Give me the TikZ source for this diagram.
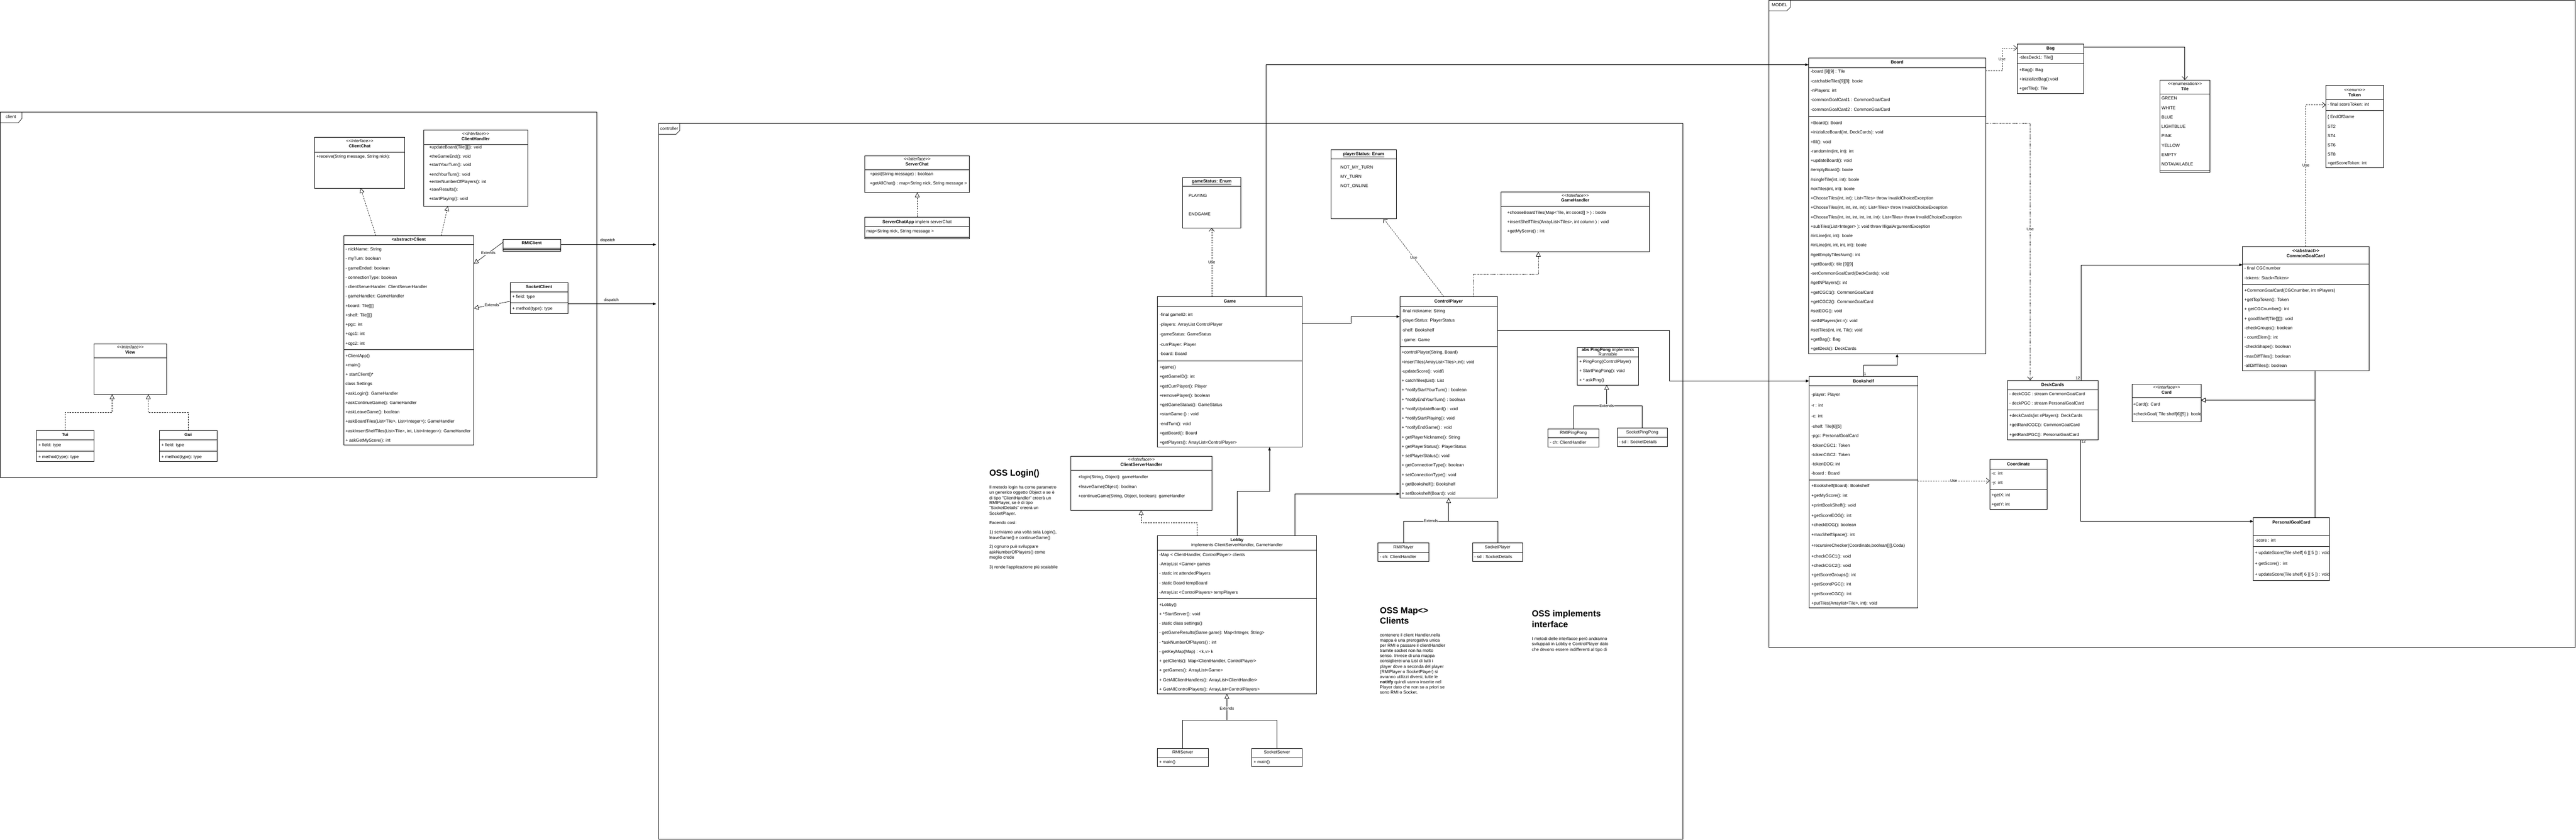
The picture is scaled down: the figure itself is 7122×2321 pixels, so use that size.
\documentclass[tikz,border=0pt]{standalone}
\usepackage{fontspec}
\setmainfont{Liberation Sans}[Ligatures=TeXOff]
\usetikzlibrary{arrows.meta}
\tikzset{
 box/.style={draw, line width=1pt, fill=white, inner sep=0pt, outer sep=0pt, anchor=north west},
 pkg/.style={draw, line width=1pt, inner sep=0pt, outer sep=0pt, anchor=north west},
 row/.style={anchor=west, inner sep=0pt, font=\fontsize{12}{14}\selectfont, text height=9pt, text depth=2.5pt},
 ctr/.style={anchor=center, inner sep=0pt, font=\fontsize{12}{14}\selectfont, text height=9pt, text depth=2.5pt},
 ttl/.style={anchor=center, inner sep=0pt, font=\fontsize{12}{14}\selectfont\bfseries, text height=9pt, text depth=2.5pt},
 ster/.style={anchor=center, inner sep=0pt, font=\fontsize{12}{14}\selectfont\itshape, text height=9pt, text depth=2.5pt},
 lbl/.style={fill=white, inner sep=1pt, font=\fontsize{11}{13}\selectfont},
 lblp/.style={inner sep=1pt, font=\fontsize{11}{13}\selectfont},
 head/.style={anchor=west, inner sep=0pt, font=\fontsize{24}{28}\selectfont\bfseries, text height=18pt, text depth=5pt},
 conn/.style={line width=1pt},
 assoc/.style={conn, -{Triangle[length=9pt,width=7pt]}},
 real/.style={conn, dash pattern=on 4pt off 3pt, -{Triangle[open,length=13pt,width=13pt]}},
 dotreal/.style={conn, dash pattern=on 2pt off 2pt, -{Triangle[open,length=13pt,width=13pt]}},
 gen/.style={conn, -{Triangle[open,length=13pt,width=13pt]}},
 dep/.style={conn, dash pattern=on 4pt off 3pt, -{Straight Barb[length=9pt,width=15pt]}},
 dotdep/.style={conn, dash pattern=on 2pt off 2pt, -{Straight Barb[length=9pt,width=15pt]}},
 navi/.style={conn, -{Straight Barb[length=9pt,width=15pt]}},
}
\newcommand\ubox[5]{\node[box, minimum width={#4-#2}, minimum height={#5-#3}] (#1) at (#2,#3) {};}
\newcommand\usep[3]{\draw[line width=1pt] (#1,#3) -- (#2,#3);}
\newcommand\urows[5]{\foreach \rt [count=\ri] in {#5} {\node[row] (#1-\ri) at ({#2},{#3+(\ri-1)*#4}) {\rt};}}
\newcommand\urowsat[3]{\foreach \ry/\rt [count=\ri] in {#3} {\node[row] (#1-\ri) at ({#2},{\ry}) {\rt};}}
\begin{document}
\begin{tikzpicture}[x=1pt,y=-1pt]
\fill[white] (0,0) rectangle (7122,2321);
\useasboundingbox (0,0) rectangle (7122,2321);

% ===== packages =====
\node[pkg, minimum width=1649, minimum height=1010] (clientpkg) at (1,310) {};
\draw[line width=1pt] (1,310) -- (61,310) -- (61,327) -- (51,339) -- (1,339);
\node[ctr] (clientlbl) at (30,324) {client};

\node[pkg, minimum width=2832, minimum height=1978] (controllerpkg) at (1821,341) {};
\draw[line width=1pt] (1821,341) -- (1879,341) -- (1879,361) -- (1869,371) -- (1821,371);
\node[ctr] (controllerlbl) at (1850,356) {controller};

\node[pkg, minimum width=2228, minimum height=1789] (modelpkg) at (4891,1) {};
\draw[line width=1pt] (4891,1) -- (4950,1) -- (4950,20) -- (4940,30) -- (4891,30);
\node[ctr] (modellbl) at (4920,15) {MODEL};

% ===== client =====
\ubox{ClientChat}{870}{380}{1119}{520}
\usep{870}{1119}{420}
\node[ster] (ClientChat-s) at (994.5,391) {<<Interface>>};
\node[ttl] (ClientChat-t) at (994.5,405) {ClientChat};
\urowsat{ClientChat}{875}{434/{+receive(String message, String nick):}}

\ubox{ClientHandler}{1171}{360}{1459}{570}
\usep{1171}{1459}{400}
\node[ster] (ClientHandler-s) at (1315,371) {<<Interface>>};
\node[ttl] (ClientHandler-t) at (1315,385) {ClientHandler};
\urowsat{ClientHandler}{1186}{408/{+updateBoard(Tile[][]): void},433/{+theGameEnd(): void},456/{+startYourTurn(): void},483/{+endYourTurn(): void},503/{+enterNumberOfPlayers(): int},524/{+sowResults():},550/{+startPlaying(): void}}

\ubox{Client}{950}{651}{1310}{1230}
\usep{950}{1310}{676}
\usep{950}{1310}{966}
\node[ttl] (Client-t) at (1130,663) {<abstract>Client};
\urows{Client}{955}{690}{26}{{- nickName: String},{- myTurn: boolean},{- gameEnded: boolean},{- connectionType: boolean},{- clientServerHander: ClientServerHandler},{- gameHandler: GameHandler},{+board: Tile[][]},{+shelf: Tile[][]},{+pgc: int},{+cgc1: int},{+cgc2: int}}
\urows{Clientm}{955}{984}{26}{{+ClientApp()},{+main()},{+ startClient()*},{class Settings},{+askLogin(): GameHandler},{+askContinueGame(): GameHandler},{+askLeaveGame(): boolean},{+askBoardTiles(List<Tile>, List<Integer>): GameHandler},{+askInsertShelfTiles(List<Tile>, int, List<Integer>): GameHandler},{+ askGetMyScore(): int}}

\ubox{RMIClient}{1390}{661}{1550}{694}
\node[ttl] (RMIClient-t) at (1470,673) {RMIClient};
\usep{1390}{1550}{686}
\usep{1390}{1550}{690}

\ubox{SocketClient}{1410}{781}{1570}{866}
\node[ttl] (SocketClient-t) at (1490,794) {SocketClient};
\usep{1410}{1570}{807}
\usep{1410}{1570}{837}
\urowsat{SocketClient}{1416}{821/{+ field: type},854/{+ method(type): type}}

\ubox{View}{260}{950}{460}{1090}
\usep{260}{460}{989}
\node[ster] (View-s) at (360,961) {<<Interface>>};
\node[ttl] (View-t) at (360,975) {View};

\ubox{Tui}{100}{1190}{260}{1276}
\node[ttl] (Tui-t) at (180,1203) {Tui};
\usep{100}{260}{1216}
\usep{100}{260}{1247}
\urowsat{Tui}{106}{1231/{+ field: type},1264/{+ method(type): type}}

\ubox{Gui}{440}{1190}{600}{1276}
\node[ttl] (Gui-t) at (520,1203) {Gui};
\usep{440}{600}{1216}
\usep{440}{600}{1247}
\urowsat{Gui}{446}{1231/{+ field: type},1264/{+ method(type): type}}

% ===== controller =====
\ubox{ServerChat}{2391}{430}{2680}{532}
\usep{2391}{2680}{469}
\node[ster] (ServerChat-s) at (2535.5,441) {<<Interface>>};
\node[ttl] (ServerChat-t) at (2535.5,455) {ServerChat};
\urowsat{ServerChat}{2405}{482/{+post(String message) : boolean},508/{+getAllChat() : map<String nick, String message >}}

\ubox{ServerChatApp}{2391}{600}{2680}{660}
\node[ctr] (ServerChatApp-t) at (2535.5,614) {\textbf{ServerChatApp} implem serverChat};
\usep{2391}{2680}{626}
\usep{2391}{2680}{656}
\urowsat{ServerChatApp}{2395}{640/{map<String nick, String message >}}

\ubox{gameStatus}{3270}{490}{3430}{630}
\node[ttl] (gameStatus-t) at (3350,502) {\underline{gameStatus: Enum}};
\usep{3270}{3430}{515}
\urowsat{gameStatus}{3286}{541/PLAYING,593/ENDGAME}

\ubox{playerStatus}{3680}{414}{3860}{604}
\node[ttl] (playerStatus-t) at (3770,426) {\underline{playerStatus: Enum}};
\usep{3680}{3860}{439}
\urowsat{playerStatus}{3706}{463/NOT\_MY\_TURN,489/MY\_TURN,515/NOT\_ONLINE}

\ubox{GameHandler}{4150}{530}{4560}{696}
\usep{4150}{4560}{570}
\node[ster] (GameHandler-s) at (4355,541) {<<Interface>>};
\node[ttl] (GameHandler-t) at (4355,555) {GameHandler};
\urowsat{GameHandler}{4167}{588/{+chooseBoardTiles(Map<Tile, int coord[] > ) : boole},614/{+insertShelfTiles(ArrayList<Tiles>, int column ) : void},640/{+getMyScore() : int}}

\ubox{Game}{3200}{820}{3600}{1236}
\node[ttl] (Game-t) at (3400,833) {Game};
\usep{3200}{3600}{847}
\usep{3200}{3600}{998}
\urowsat{Game}{3206}{871/{-final gameID: int},898/{-players: ArrayList ControlPlayer},925/{-gameStatus: GameStatus},953/{-currPlayer: Player},979/{-board: Board}}
\urows{Gamem}{3206}{1016}{26}{{+game()},{+getGameID(): int},{+getCurrPlayer(): Player},{+removePlayer(): boolean},{+getGameStatus(): GameStatus},{+startGame () : void},{-endTurn(): void},{+getBoard(): Board},{+getPlayers(): ArrayList<ControlPlayer>}}

\ubox{ControlPlayer}{3870}{820}{4140}{1377}
\node[ttl] (ControlPlayer-t) at (4005,833) {ControlPlayer};
\usep{3870}{4140}{847}
\usep{3870}{4140}{958}
\urowsat{ControlPlayer}{3875}{860/{-final nickname: String},886/{-playerStatus: PlayerStatus},914/{-shelf: Bookshelf},941/{- game: Game}}
\urows{ControlPlayerm}{3875}{975}{26}{{+controlPlayer(String, Board)},{+insertTiles(ArrayList<Tiles>,int): void},{-updateScore(): voidß},{+ catchTiles(List): List},{+ *notifyStartYourTurn() : boolean},{+ *notifyEndYourTurn() : boolean},{+ *notifyUpdateBoard() : void},{+ *notifyStartPlaying(): void},{+ *notifyEndGame() : void},{+ getPlayerNickname(): String},{+ getPlayerStatus(): PlayerStatus},{+ setPlayerStatus(): void},{+ getConnectionType(): boolean},{+ setConnectionType(): void},{+ getBookshelf(): Bookshelf},{+ setBookshelf(Board): void}}

\ubox{PingPong}{4361}{960}{4530}{1064}
\node[ctr] (PingPong-t1) at (4445.5,967) {\textbf{abs PingPong} implements};
\node[ctr] (PingPong-t2) at (4445.5,980) {Runnable};
\usep{4361}{4530}{986}
\urowsat{PingPong}{4366}{1000/{+ PingPong(ControlPlayer)},1026/{+ StartPingPong(): void},1052/{+ * askPing()}}

\ubox{RMIPingPong}{4280}{1185}{4420}{1236}
\node[ctr] (RMIPingPong-t) at (4350,1197) {RMIPingPong};
\usep{4280}{4420}{1210}
\urowsat{RMIPingPong}{4285}{1224/{- ch: ClientHandler}}

\ubox{SocketPingPong}{4471}{1183}{4610}{1234}
\node[ctr] (SocketPingPong-t) at (4540.5,1195) {SocketPingPong};
\usep{4471}{4610}{1209}
\urowsat{SocketPingPong}{4476}{1222/{- sd : SocketDetails}}

\ubox{ClientServerHandler}{2961}{1261}{3350}{1410}
\usep{2961}{3350}{1299}
\node[ster] (ClientServerHandler-s) at (3155.5,1271) {<<Interface>>};
\node[ttl] (ClientServerHandler-t) at (3155.5,1285) {ClientServerHandler};
\urowsat{ClientServerHandler}{2981}{1319/{+login(String, Object): gameHandler},1346/{+leaveGame(Object): boolean},1372/{+continueGame(String, Object, boolean): gameHandler}}

\ubox{Lobby}{3200}{1481}{3640}{1918}
\node[ttl] (Lobby-t) at (3420,1493) {Lobby};
\node[ctr] (Lobby-t2) at (3420,1507) {implements ClientServerHandler, GameHandler};
\usep{3200}{3640}{1521}
\usep{3200}{3640}{1654}
\urows{Lobby}{3205}{1534}{26}{{-Map < ClientHandler, ControlPlayer> clients},{-ArrayList <Game> games},{- static int attendedPlayers},{- static Board tempBoard},{-ArrayList <ControlPlayers> tempPlayers}}
\urows{Lobbym}{3205}{1672}{26}{{+Lobby()},{+ *StartServer(): void},{- static class settings()},{- getGameResults(Game game): Map<Integer, String>},{- *askNumberOfPlayers() : int},{- getKeyMap(Map) : <k,v> k},{+ getClients(): Map<ClientHandler, ControlPlayer>},{+ getGames(): ArrayList<Game>},{+ GetAllClientHandlers(): ArrayList<ClientHandler>},{+ GetAllControlPlayers(): ArrayList<ControlPlayers>}}

\ubox{RMIPlayer}{3810}{1501}{3950}{1552}
\node[ctr] (RMIPlayer-t) at (3880,1513) {RMIPlayer};
\usep{3810}{3950}{1527}
\urowsat{RMIPlayer}{3815}{1540/{- ch: ClientHandler}}

\ubox{SocketPlayer}{4071}{1501}{4210}{1552}
\node[ctr] (SocketPlayer-t) at (4140.5,1513) {SocketPlayer};
\usep{4071}{4210}{1527}
\urowsat{SocketPlayer}{4076}{1540/{- sd : SocketDetails}}

\ubox{RMIServer}{3200}{2068}{3340}{2119}
\node[ctr] (RMIServer-t) at (3270,2080) {RMIServer};
\usep{3200}{3340}{2094}
\urowsat{RMIServer}{3205}{2107/{+ main()}}

\ubox{SocketServer}{3461}{2068}{3600}{2119}
\node[ctr] (SocketServer-t) at (3530.5,2080) {SocketServer};
\usep{3461}{3600}{2094}
\urowsat{SocketServer}{3466}{2107/{+ main()}}

% notes
\node[head] (ossA) at (2735,1309) {OSS Login()};
\urowsat{ossAtxt}{2735}{1348/{Il metodo login ha come parametro},1362/{un generico oggetto Object e se è},1377/{di tipo "ClientHandler" creerà un},1391/{RMIPlayer, se è di tipo},1405/{"SocketDetails" creerà un},1420/{SocketPlayer.},1446/{Facendo così:},1472/{1) scriviamo una volta sola Login(),},1487/{leaveGame() e continueGame()},1512/{2) ognuno può sviluppare},1527/{askNumberOfPlayers() come},1542/{meglio crede},1568/{3) rende l'applicazione più scalabile}}

\node[head] (ossB1) at (3815,1689) {OSS Map<>};
\node[head] (ossB2) at (3815,1718) {Clients};
\urowsat{ossBtxt}{3815}{1756/{contenere il client Handler.nella},1771/{mappa è una prerogativa unica},1785/{per RMI e passare il clientHandler},1800/{tramite socket non ha molto},1814/{senso. Invece di una mappa},1828/{consiglierei una List di tutti i},1843/{player dove a seconda del player},1857/{(RMIPlayer o SocketPlayer) si},1872/{avranno utilizzi diversi, tutte le},1886/{\textbf{notitfy} quindi vanno inserite nel},1900/{Player dato che non so a priori se},1915/{sono RMI o Socket.}}

\node[head] (ossC1) at (4235,1698) {OSS implements};
\node[head] (ossC2) at (4235,1728) {interface};
\urowsat{ossCtxt}{4235}{1766/{I metodi delle interfacce però andranno},1781/{sviluppati in Lobby e ControlPlayer dato},1796/{che devono essere indifferenti al tipo di}}

% ===== MODEL =====
\ubox{Board}{5000}{160}{5490}{978}
\node[ttl] (Board-t) at (5245,173) {Board};
\usep{5000}{5490}{187}
\usep{5000}{5490}{322}
\urows{Board}{5006}{199}{26}{{-board [9][9] : Tile},{-catchableTiles[9][9]: boole},{-nPlayers: int},{-commonGoalCard1 : CommonGoalCard},{-commonGoalCard2 : CommonGoalCard}}
\urows{Boardm}{5006}{341}{26}{{+Board(): Board},{+inizializeBoard(int, DeckCards): void},{+fill(): void},{-randomInt(int, int): int},{+updateBoard(): void},{\#emptyBoard(): boole},{\#singleTile(int, int): boole},{\#okTiles(int, int): boole},{+ChooseTiles(int, int): List<Tiles> throw InvalidChoiceException},{+ChooseTiles(int, int, int, int): List<Tiles> throw InvalidChoiceException},{+ChooseTiles(int, int, int, int, int, int): List<Tiles> throw InvalidChoiceException},{+subTiles(List<Integer> ): void throw IlligalArgumentException},{\#inLine(int, int): boole},{\#inLine(int, int, int, int): boole},{\#getEmptyTilesNum(): int},{+getBoard(): tile [9][9]},{-setCommonGoalCard(DeckCards): void},{\#getNPlayers(): int},{+getCGC1(): CommonGoalCard},{+getCGC2(): CommonGoalCard},{\#setEOG(): void},{-setNPlayers(int n): void},{\#setTiles(int, int, Tile): void},{+getBag(): Bag},{+getDeck(): DeckCards}}

\ubox{Bag}{5577}{121}{5761}{259}
\node[ttl] (Bag-t) at (5669,134) {Bag};
\usep{5577}{5761}{147}
\usep{5577}{5761}{176}
\urowsat{Bag}{5583}{160/{-tilesDeck1:  Tile[]},194/{+Bag(): Bag},220/{+inizializeBag():void},246/{+getTile(): Tile}}

\ubox{Tile}{5971}{221}{6110}{476}
\node[ctr] (Tile-s) at (6040.5,233) {<<enumeration>>};
\node[ttl] (Tile-t) at (6040.5,247) {Tile};
\usep{5971}{6110}{260}
\urows{Tile}{5976}{273}{26}{GREEN,WHITE,BLUE,LIGHTBLUE,PINK,YELLOW,EMPTY,NOTAVAILABLE}
\usep{5971}{6110}{472}

\ubox{Token}{6430}{236}{6590}{464}
\node[ctr] (Token-s) at (6510,250) {<<enum>>};
\node[ttl] (Token-t) at (6510,264) {Token};
\usep{6430}{6590}{276}
\urowsat{Tokena}{6435}{290/{- final scoreToken: int}}
\usep{6430}{6590}{306}
\urowsat{Token}{6435}{324/{\{ EndOfGame},350/ST2,376/ST4,402/ST6,428/ST8,452/{+getScoreToken: int}}

\ubox{CommonGoalCard}{6200}{681}{6550}{1024}
\node[ttl] (CommonGoalCard-s) at (6375,694) {<<abstract>>};
\node[ttl] (CommonGoalCard-t) at (6375,708) {CommonGoalCard};
\usep{6200}{6550}{730}
\usep{6200}{6550}{787}
\urowsat{CommonGoalCard}{6205}{743/{- final CGCnumber},769/{-tokens: Stack<Token>}}
\urows{CommonGoalCardm}{6205}{803}{26.1}{{+CommonGoalCard(CGCnumber, int nPlayers)},{+getTopToken(): Token},{+ getCGCnumber(): int},{+ goodShelf(Tile[][]): void},{-checkGroups(): boolean},{- countElem(): int},{-checkShape(): boolean},{-maxDiffTiles(): boolean},{-allDiffTiles(): boolean}}

\ubox{DeckCards}{5550}{1051}{5800}{1215}
\node[ttl] (DeckCards-t) at (5675,1064) {DeckCards};
\usep{5550}{5800}{1077}
\usep{5550}{5800}{1133}
\urowsat{DeckCards}{5555}{1090/{- deckCGC : stream CommonGoalCard},1116/{- deckPGC : stream PersonalGoalCard},1150/{+deckCards(int nPlayers): DeckCards},1176/{+getRandCGC(): CommonGoalCard},1202/{+getRandPGC(): PersonalGoalCard}}

\ubox{Card}{5895}{1061}{6085}{1166}
\node[ster] (Card-s) at (5990,1071) {<<interface>>};
\node[ttl] (Card-t) at (5990,1085) {Card};
\usep{5895}{6085}{1099}
\urowsat{Card}{5897}{1119/{+Card(): Card},1145/{+checkGoal( Tile shelf[6][5] ): boole}}

\ubox{Coordinate}{5501}{1270}{5660}{1408}
\node[ttl] (Coordinate-t) at (5580.5,1283) {Coordinate};
\usep{5501}{5660}{1296}
\usep{5501}{5660}{1352}
\urowsat{Coordinate}{5506}{1309/{-x: int},1335/{-y: int},1369/{+getX: int},1395/{+getY: int}}

\ubox{Bookshelf}{5002}{1040}{5302}{1680}
\node[ttl] (Bookshelf-t) at (5152,1054) {Bookshelf};
\usep{5002}{5302}{1066}
\usep{5002}{5302}{1326}
\urowsat{Bookshelf}{5008}{1092/{-player: Player},1121/{-r : int},1151/{-c: int},1180/{-shelf: Tile[6][5]},1206/{-pgc: PersonalGoalCard},1232/{-tokenCGC1: Token},1258/{-tokenCGC2: Token},1284/{-tokenEOG: int},1310/{-board : Board}}
\urowsat{Bookshelfm}{5008}{1344/{+Bookshelf(Board): Bookshelf},1370/{+getMyScore(): int},1397/{+printBookShelf(): void},1426/{+getScoreEOG(): int},1452/{+checkEOG(): boolean},1479/{+maxShelfSpace(): int},1509/{+recursiveChecker(Coordinate,boolean[][],Coda)},1538/{+checkCGC1(): void},1564/{+checkCGC2(): void},1590/{+getScoreGroups(): int},1616/{+getScorePGC(): int},1642/{+getScoreCGC(): int},1668/{+putTiles(Arraylist<Tile>, int): void}}

\ubox{PersonalGoalCard}{6230}{1430}{6440}{1604}
\node[ttl] (PersonalGoalCard-t) at (6335,1444) {PersonalGoalCard};
\usep{6230}{6440}{1480}
\usep{6230}{6440}{1510}
\urowsat{PersonalGoalCard}{6234}{1494/{-score : int},1529/{+ updateScore(Tile shelf[ 6 ][ 5 ]) : void},1559/{+ getScore() : int},1589/{+ updateScore(Tile shelf[ 6 ][ 5 ]) : void}}

% ===== connectors: client =====
\draw[real] ([xshift=89]Client.north west) -- ([xshift=127]ClientChat.south west);
\draw[real] ([xshift=270]Client.north west) -- ([xshift=67]ClientHandler.south west);
\draw[gen] ([yshift=-9]RMIClient.north west) -- node[lbl] (lblE1) {Extends} ([yshift=-78]Client.north east);
\draw[gen] ([yshift=-52]SocketClient.north west) -- node[lbl] (lblE2) {Extends} ([yshift=-201]Client.north east);
\draw[real] (Tui.north) |- ([xshift=50,yshift=-50]View.south west) -- ([xshift=50]View.south west);
\draw[real] (Gui.north) |- ([xshift=150,yshift=-50]View.south west) -- ([xshift=150]View.south west);
\coordinate (rmiout) at ([yshift=-15]RMIClient.north east);
\draw[assoc, shorten >=7pt] (rmiout) -- (rmiout -| controllerpkg.west);
\node[lblp] (lblD1) at (1680,665) {dispatch};
\coordinate (sockout) at ([yshift=-59]SocketClient.north east);
\draw[assoc, shorten >=7pt] (sockout) -- (sockout -| controllerpkg.west);
\node[lblp] (lblD2) at (1690,830) {dispatch};

% ===== connectors: controller =====
\draw[real] ([xshift=145]ServerChatApp.north west) -- ([xshift=145]ServerChat.south west);
\draw[dep] (Game.north -| gameStatus.south) -- node[lbl] (lblU1) {Use} (gameStatus.south);
\draw[dep] ([xshift=122]ControlPlayer.north west) -- node[lbl] (lblU2) {Use} ([xshift=145]playerStatus.south west);
\draw[dotreal] ([xshift=203]ControlPlayer.north west) |- ([xshift=103,yshift=-62]GameHandler.south west) -- ([xshift=103]GameHandler.south west);
\draw[assoc] ([yshift=-73]Game.north east) -- ++(135,0) |- ([yshift=-55]ControlPlayer.north west);
\draw[assoc] ([xshift=300]Game.north west) |- ([yshift=-19]Board.north west);
\draw[assoc] ([yshift=-94]ControlPlayer.north east) -- ++(475,0) |- ([yshift=-13]Bookshelf.north west);
\draw[assoc] ([xshift=220]Lobby.north west) -- ++(0,-123) -| ([xshift=310]Game.south west);
\draw[assoc] ([xshift=380]Lobby.north west) |- ([yshift=12]ControlPlayer.south west);
\draw[real] ([xshift=110]Lobby.north west) -- ++(0,-36) -| ([xshift=194]ClientServerHandler.south west);

\coordinate (cpj) at ([yshift=-63]ControlPlayer.south);
\draw[conn] (RMIPlayer.north) |- (cpj) -| (SocketPlayer.north);
\draw[gen] (cpj) -- (ControlPlayer.south);
\node[lbl] (lblE3) at (3956,1439) {Extends};

\coordinate (lbj) at ([xshift=192,yshift=-72]Lobby.south west);
\draw[conn] (RMIServer.north) |- (lbj) -| (SocketServer.north);
\draw[gen] (lbj) -- node[lbl, pos=0.45] (lblE4) {Extends} ([xshift=192]Lobby.south west);

\coordinate (ppj) at ([xshift=81,yshift=-58]PingPong.south west);
\draw[conn] (RMIPingPong.north) |- (ppj) -| (SocketPingPong.north);
\draw[gen] (ppj) -- ([xshift=81]PingPong.south west);
\node[lbl] (lblE5) at (4442,1122) {Extends};

% ===== connectors: MODEL =====
\draw[dep] ([yshift=-36]Board.north east) -- ++(45,0) |- ([yshift=-12]Bag.north west);
\node[lbl] (lblU3) at (5535,164) {Use};
\draw[navi] ([yshift=-9]Bag.north east) -| (Tile.north);
\draw[dotdep] ([yshift=-181]Board.north east) -| ([xshift=63]DeckCards.north west);
\node[lbl] (lblU4) at (5613,634) {Use};
\draw[dep] ([xshift=175]CommonGoalCard.north west) |- ([yshift=-54]Token.north west);
\node[lbl] (lblU5) at (6375,457) {Use};
\draw[assoc] ([xshift=203]DeckCards.north west) |- ([yshift=-51]CommonGoalCard.north west);
\node[lblp, anchor=south east, inner sep=1pt] (lbl12a) at (5752,1050) {12};
\draw[assoc] ([xshift=202]DeckCards.south west) |- ([yshift=-11]PersonalGoalCard.north west);
\node[lblp, anchor=north west, inner sep=1pt] (lbl12b) at (5753,1216) {12};
\coordinate (cardin) at ([yshift=-45]Card.north east);
\draw[gen] ([xshift=200]CommonGoalCard.south west) |- (cardin);
\draw[gen] ([xshift=170]PersonalGoalCard.north west) |- (cardin);
\draw[assoc] ([xshift=150]Bookshelf.north west) -- ++(0,-31) -| ([xshift=245]Board.south west);
\node[lblp, anchor=south west, inner sep=1pt] (lbl1) at (5152,1039) {1};
\coordinate (bsout) at ([yshift=-289]Bookshelf.north east);
\draw[dep] (bsout) -- node[lbl] (lblU6) {Use} (bsout -| Coordinate.west);
\end{tikzpicture}
\end{document}
